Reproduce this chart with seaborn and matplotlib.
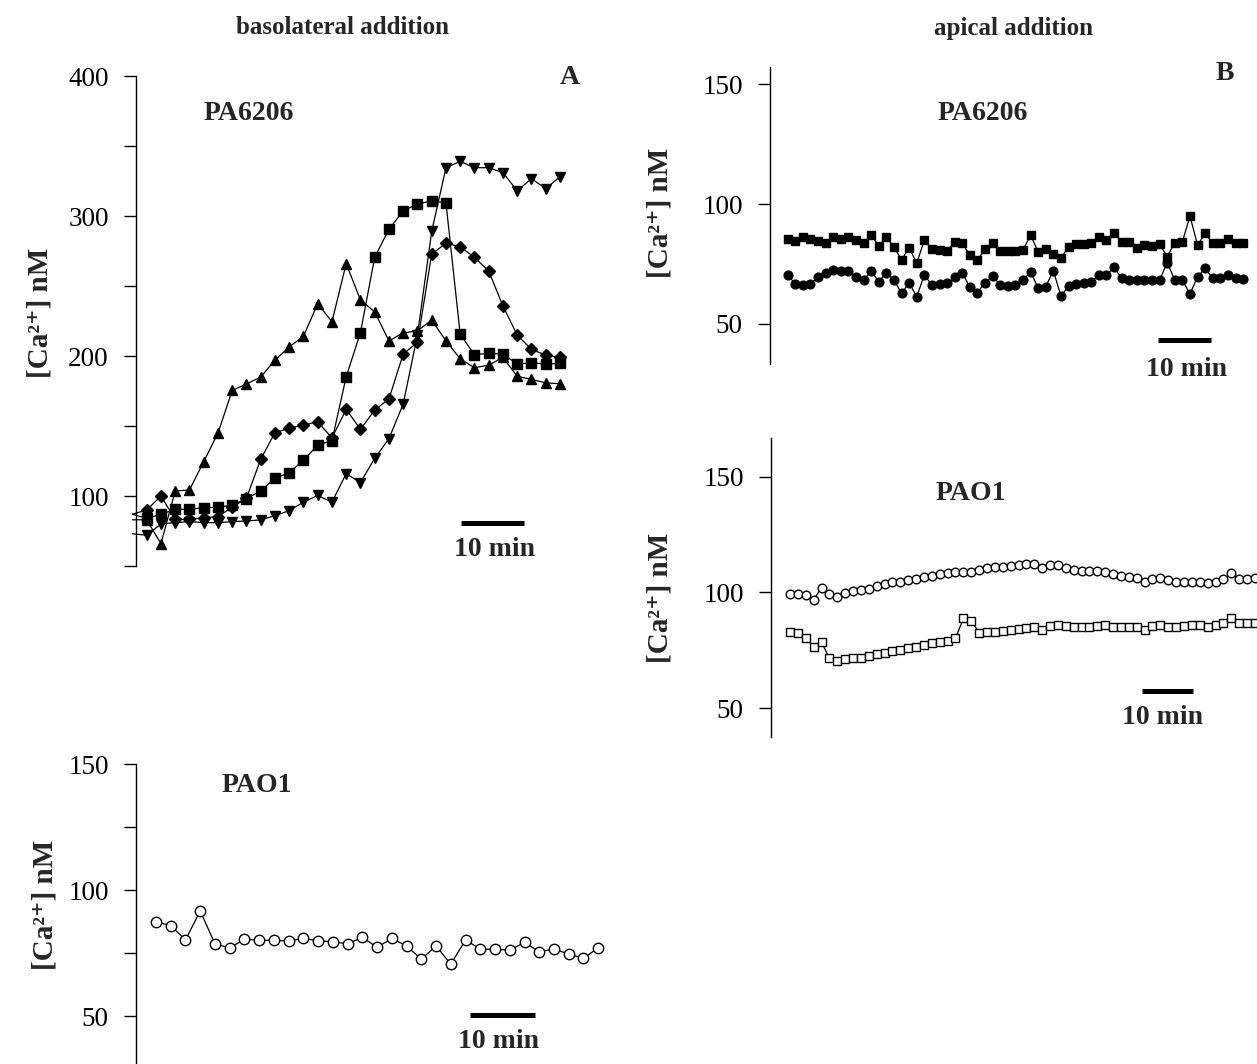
import numpy as np
import pandas as pd
import matplotlib
matplotlib.use("Agg")
import matplotlib.pyplot as plt
import seaborn as sns

# ---------------- data ----------------
# Panel A, basolateral addition, PA6206: four cells (first sample sits behind the axis)
a_tri_up = [83, 83, 66, 103.6, 104.3, 124.5, 144.8, 175.4, 180, 185, 197, 206.5, 214, 237.5,
            224.4, 266, 240, 231.5, 210.8, 216.5, 218, 225.6, 210.8, 198, 191.6, 193.5, 199,
            185.5, 183.3, 180.8, 180.2]
a_square = [87, 84, 86.9, 90.5, 90.5, 91.7, 91.9, 93.6, 97.9, 103.8, 112.6, 116.7, 125.5, 136.4,
            139.5, 185.2, 216.7, 270.5, 290.5, 303.6, 308.6, 310.7, 309.5, 215.5, 201, 201.9,
            201.4, 194.2, 195.2, 194.2, 194.7]
a_diamond = [87, 90, 100, 83.3, 83.3, 84.5, 85.3, 92, 98.4, 126.2, 145.3, 148.3, 150.7, 153,
             141.5, 161.9, 147.6, 161.4, 169.3, 201.4, 209.8, 272.8, 280.5, 278.1, 270.4, 260.7,
             235.7, 215, 204.7, 200.7, 199]
a_tri_down = [73, 72, 80, 81, 81.7, 81, 81, 81.7, 82.2, 82.9, 86, 89.5, 95.6, 100.4, 95.6, 116,
              109.5, 126.9, 141, 165.7, 215, 289, 334.5, 339, 334.5, 334.5, 331, 318, 326.7,
              319.5, 328]

# Panel A, basolateral addition, PAO1
a_pao1 = [87.4, 85.9, 80.2, 91.7, 78.6, 77.1, 80.4, 80.2, 80.0, 79.8, 80.8, 79.9, 79.5, 78.7,
          81.2, 77.3, 80.8, 77.8, 72.6, 77.8, 70.6, 80.2, 76.6, 76.5, 76.2, 79.2, 75.5, 76.6,
          74.6, 72.9, 77.1]

# Panel B, apical addition, PA6206
b_pa_square = [85.3, 84.6, 86.4, 85.3, 84.7, 83.9, 86.4, 85.3, 86.1, 85.0, 83.6, 87.1, 82.5,
               86.1, 82.2, 76.7, 81.9, 75.3, 85.0, 81.1, 80.8, 80.6, 84.3, 83.6, 78.8, 76.7,
               81.1, 83.6, 80.6,
               80.6, 80.6, 80.8, 87.1, 80.1, 81.1, 79.2, 77.4, 82.2, 83.3, 83.3, 83.6, 86.4,
               85.0, 88.1, 84.3, 84.3, 81.5, 82.9, 82.5, 83.3, 78.1, 83.9, 84.3, 95.0, 82.9,
               87.8, 83.6, 83.6, 85.3, 83.6, 83.6]
b_pa_circle = [70.4, 66.7, 66.25, 66.7, 69.7, 71.1, 72.5, 72.2, 72.2, 69.7, 68.3, 72.2, 67.6,
               71.4, 68.3, 62.8, 67.2, 61.4, 70.4, 66.25, 66.7, 66.9, 69.4, 71.4, 65.3, 63.1,
               67.2, 70.0, 66.25,
               65.8, 66.25, 68.3, 71.8, 64.9, 65.6, 72.2, 61.7, 65.8, 66.7, 67.2, 67.6, 70.4,
               70.4, 73.6, 69.0, 68.3, 68.3, 68.3, 68.3, 68.3, 75.6, 68.3, 68.3, 62.5, 69.7,
               73.2, 69.0, 69.0, 70.4, 69.0, 68.75]

# Panel B, apical addition, PAO1
b_pao1_circle = [99.4, 99.4, 98.9, 96.8, 102.1, 99.2, 97.9, 99.9, 100.6, 101.1, 101.5, 102.8,
                 103.7, 104.4, 104.7, 105.4, 105.8, 106.5, 107.3, 108.0, 108.3, 108.7, 109.0,
                 109.0, 109.7, 110.7, 110.9, 111.2, 111.6, 111.9, 112.2, 112.3, 110.4, 111.9,
                 111.9, 110.4, 109.7, 109.4, 109.3, 109.3, 108.7, 107.8, 107.3, 106.8, 106.4,
                 104.4, 105.7, 106.4, 105.4, 104.7, 104.7, 104.7, 104.7, 104.2, 104.7, 105.7,
                 108.6, 105.8, 105.8, 106.1]
b_pao1_square = [83.1, 82.4, 80.2, 76.6, 78.5, 71.6, 70.4, 71.2, 71.6, 71.9, 72.6, 73.3, 74.0,
                 74.7, 75.2, 75.9, 76.6, 77.3, 78.1, 78.8, 79.1, 80.2, 88.8, 87.8, 82.7, 83.1,
                 83.1, 83.4, 83.8, 84.1, 84.8, 85.3, 83.8, 85.5, 86.0, 85.5, 85.3, 85.3, 85.3,
                 85.5, 86.0, 85.3, 85.3, 85.3, 85.3, 83.8, 85.5, 86.0, 85.3, 85.3, 85.5, 86.0,
                 86.0, 85.3, 86.0, 86.7, 88.8, 86.7, 86.7, 87.0]

# sampling intervals (min)
DT_A, DT_A2, DT_B1, DT_B2 = 2.25, 2.25, 1.43, 1.545

# ---------------- style ----------------
sns.set_style("white")
plt.rcParams["font.family"] = ["Liberation Serif", "DejaVu Serif"]

W, H = 1257, 1064
fig = plt.figure(figsize=(W / 100, H / 100), dpi=100)
fig.patch.set_facecolor("white")


def add_axes(l, t, r, b):
    return fig.add_axes([l / W, 1 - b / H, (r - l) / W, (b - t) / H])


def ftext(x, y, s, size, weight="bold", **kw):
    return fig.text(x / W, 1 - y / H, s, ha="center", va="center", fontsize=size,
                    fontweight=weight, **kw)


def style_axis(ax, ticks, labels):
    for sp in ["top", "right", "bottom"]:
        ax.spines[sp].set_visible(False)
    ax.spines["left"].set_linewidth(1.0)
    ax.spines["left"].set_color("black")
    ax.set_xticks([])
    ax.set_yticks(ticks)
    ax.set_yticklabels(labels)
    ax.tick_params(axis="y", left=True, direction="out", length=8.6, width=1.0, pad=11,
                   labelsize=19.5, colors="black")
    ax.set_xlabel("")
    ax.set_ylabel("")
    ax.set_facecolor("none")


def series(ax, t, y, marker, ms, filled=True, **kw):
    df = pd.DataFrame({"t": t, "y": y})
    sns.lineplot(data=df, x="t", y="y", ax=ax, estimator=None, sort=False,
                 color="black", linewidth=0.9, marker=marker, markersize=ms,
                 markeredgecolor="black", markeredgewidth=1.0,
                 markerfacecolor="black" if filled else "white", **kw)


def ylabel(x, y):
    # "[Ca" + superscript "2+" + "] nM", bold serif, rotated
    t = ftext(x, y, "[Ca\u00b2\u207a] nM", 21, rotation=90)
    return t


# ---------------- Panel A, PA6206 ----------------
axA = add_axes(136, 76, 600, 566)
tA = np.arange(-1, len(a_tri_up) - 1) * DT_A
series(axA, tA, a_tri_up, "^", 7.5, clip_on=False, markevery=slice(1, None))
series(axA, tA, a_square, "s", 6.5, clip_on=False, markevery=slice(1, None))
series(axA, tA, a_diamond, "D", 6.5, clip_on=False, markevery=slice(1, None))
series(axA, tA, a_tri_down, "v", 7.5, clip_on=False, markevery=slice(1, None))
sA = 14.25 / DT_A
axA.set_xlim((136 - 146.7) / sA, (600 - 146.7) / sA)
axA.set_ylim(50, 400)
style_axis(axA, list(range(50, 401, 50)),
           ["", "100", "", "200", "", "300", "", "400"])
axA.plot([49.6, 59.6], [80.9, 80.9], color="black", lw=3.6, solid_capstyle="butt")

# ---------------- Panel A, PAO1 ----------------
axA2 = add_axes(136, 764, 610, 1064)
tA2 = np.arange(len(a_pao1)) * DT_A2
series(axA2, tA2, a_pao1, "o", 7.5, filled=False)
sA2 = 14.74 / DT_A2
axA2.set_xlim((136 - 156) / sA2, (610 - 156) / sA2)
axA2.set_ylim(31, 150)
style_axis(axA2, [50, 75, 100, 125, 150], ["50", "", "100", "", "150"])
axA2.plot([47.9, 57.9], [50.4, 50.4], color="black", lw=3.6, solid_capstyle="butt")

# ---------------- Panel B, PA6206 ----------------
axB = add_axes(770, 67, 1257, 364)
tB = np.arange(len(b_pa_square)) * DT_B1
series(axB, tB, b_pa_square, "s", 6.0)
series(axB, tB, b_pa_circle, "o", 6.3)
sB = 7.59 / DT_B1
axB.set_xlim((770 - 787.7) / sB, (1257 - 787.7) / sB)
axB.set_ylim(33.3, 157.2)
style_axis(axB, [50, 100, 150], ["50", "100", "150"])
axB.plot([69.7, 79.7], [43.3, 43.3], color="black", lw=3.6, solid_capstyle="butt")

# ---------------- Panel B, PAO1 ----------------
axB2 = add_axes(771, 438, 1257, 737)
tB2 = np.arange(len(b_pao1_circle)) * DT_B2
series(axB2, tB2, b_pao1_circle, "o", 6.2, filled=False, clip_on=False)
series(axB2, tB2, b_pao1_square, "s", 5.8, filled=False, clip_on=False)
sB2 = 7.88 / DT_B2
axB2.set_xlim((771 - 790) / sB2, (1257 - 790) / sB2)
axB2.set_ylim(37.6, 166.7)
style_axis(axB2, [50, 100, 150], ["50", "100", "150"])
axB2.plot([69, 79], [57.5, 57.5], color="black", lw=3.6, solid_capstyle="butt")

# ---------------- texts ----------------
ftext(343, 27, "basolateral addition", 18)
ftext(1013, 28, "apical addition", 18)
ftext(249, 114, "PA6206", 20)
ftext(570, 78, "A", 20)
ftext(257, 785, "PAO1", 20)
ftext(983, 113, "PA6206", 20)
ftext(1225, 74, "B", 20)
ftext(971, 493, "PAO1", 20)
ftext(495, 550, "10 min", 20)
ftext(498, 1042, "10 min", 20)
ftext(1187, 370, "10 min", 20)
ftext(1162, 717, "10 min", 20)
ylabel(40, 313)
ylabel(45, 905)
ylabel(660, 213)
ylabel(660, 598)

fig.savefig("out.png", dpi=100, facecolor="white")
